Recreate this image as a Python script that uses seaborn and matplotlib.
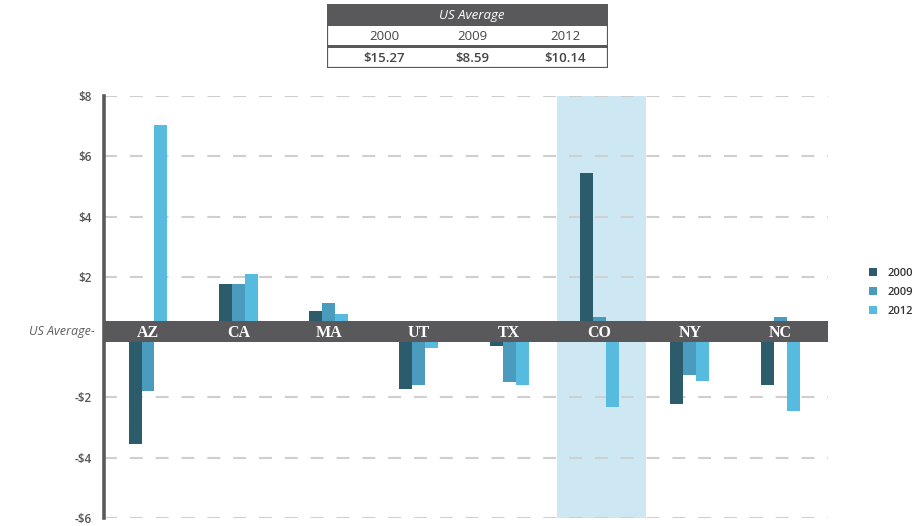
import numpy as np
import pandas as pd
import seaborn as sns
import matplotlib.pyplot as plt
from matplotlib.patches import Rectangle

# Difference from the US average, by state and year (dollars)
states = ["AZ", "CA", "MA", "UT", "TX", "CO", "NY", "NC"]
years = ["2000", "2009", "2012"]
diff_2000 = [-3.53, 1.77, 0.86, -1.72, -0.29, 5.45, -2.22, -1.59]
diff_2009 = [-1.80, 1.77, 1.12, -1.59, -1.48, 0.68, -1.24, 0.66]
diff_2012 = [7.04, 2.11, 0.77, -0.35, -1.59, -2.31, -1.46, -2.46]

# US average values shown in the header table
us_average = ["$15.27", "$8.59", "$10.14"]

y_ticks = [-6, -4, -2, 2, 4, 6, 8]
y_tick_labels = ["-$6", "-$4", "-$2", "$2", "$4", "$6", "$8"]
highlight_state = "CO"

colors = ["#2c5b6c", "#4a9bbd", "#57bbe0"]
band_color = "#59595b"
grid_color = "#cfcfcf"
highlight_color = "#cde8f3"
text_gray = "#555555"

sns.set_theme(style="white")
plt.rcParams["font.family"] = ["Open Sans", "DejaVu Sans"]

df = pd.DataFrame({
    "state": states * 3,
    "year": [y for y in years for _ in states],
    "value": diff_2000 + diff_2009 + diff_2012,
})

W, H = 914, 526
fig = plt.figure(figsize=(W / 100, H / 100), dpi=100)
ax = fig.add_axes([104 / W, 1 - 518 / H, (828 - 104) / W, (518 - 96) / H])

sns.barplot(data=df, x="state", y="value", hue="year", order=states,
            hue_order=years, palette=colors, width=0.43, saturation=1,
            linewidth=0, errorbar=None, ax=ax, zorder=2)

ax.set_xlim(-0.487, 7.53)
ax.set_ylim(-6, 8)

# highlighted state column
hi = states.index(highlight_state)
ax.axvspan(hi - 0.47, hi + 0.52, color=highlight_color, zorder=0, lw=0)

# dashed gridlines
for t in y_ticks:
    ax.axhline(t, color=grid_color, lw=1.5, dashes=(6.2, 6.2), zorder=0.5)

# "US Average" baseline band with state names
band_lo, band_hi = -0.17, 0.535
ax.axhspan(band_lo, band_hi, color=band_color, zorder=3, lw=0)
band_mid = (band_lo + band_hi) / 2
for i, s in enumerate(states):
    ax.text(i, band_mid - 0.03, s, color="white", fontsize=11.5,
            fontweight="bold", family=["Liberation Serif", "DejaVu Serif"],
            ha="center", va="center", zorder=4)
ax.text(-0.587, band_mid, "US Average-", color="#5e5e5e", fontsize=9,
        fontstyle="italic", ha="right", va="center")

ax.set_yticks(y_ticks)
ax.set_yticklabels(y_tick_labels, color=text_gray, fontsize=8.5,
                   fontweight="semibold")
ax.tick_params(axis="y", length=0, pad=9)
ax.set_xticks([])
ax.set_xlabel("")
ax.set_ylabel("")
for side in ["top", "right", "bottom"]:
    ax.spines[side].set_visible(False)
ax.spines["left"].set_color("#5a5a5a")
ax.spines["left"].set_linewidth(2.6)

sns.move_legend(ax, "upper left", bbox_to_anchor=(869 / W, 1 - 268 / H),
                bbox_transform=fig.transFigure, frameon=False, title=None,
                handlelength=0.75, handleheight=0.75, handletextpad=0.9,
                labelspacing=0.7, borderpad=0, borderaxespad=0,
                fontsize=8)
for txt in ax.get_legend().get_texts():
    txt.set_color("#333333")
    txt.set_fontweight("semibold")

# header table with US averages
tx0, ty0, tw, th = 327, 4, 281, 64
tax = fig.add_axes([tx0 / W, 1 - (ty0 + th) / H, tw / W, th / H])
tax.set_xlim(0, tw)
tax.set_ylim(th, 0)
tax.axis("off")
tax.add_patch(Rectangle((0, 0), tw, 22, color=band_color, lw=0))
tax.add_patch(Rectangle((0, 0), tw, th, fill=False, ec=band_color, lw=1.6))
tax.add_patch(Rectangle((0, 41), tw, 3, color=band_color, lw=0))
tax.text(145, 11, "US Average", color="white", fontsize=9.5,
         fontstyle="italic", ha="center", va="center")
col_x = [57, 145, 238]
for cx, yr, val in zip(col_x, years, us_average):
    tax.text(cx, 32, yr, color="#444444", fontsize=9.5, ha="center",
             va="center")
    tax.text(cx, 54, val, color="#444444", fontsize=9.5,
             fontweight="semibold", ha="center", va="center")

fig.savefig("out.png", dpi=100)
